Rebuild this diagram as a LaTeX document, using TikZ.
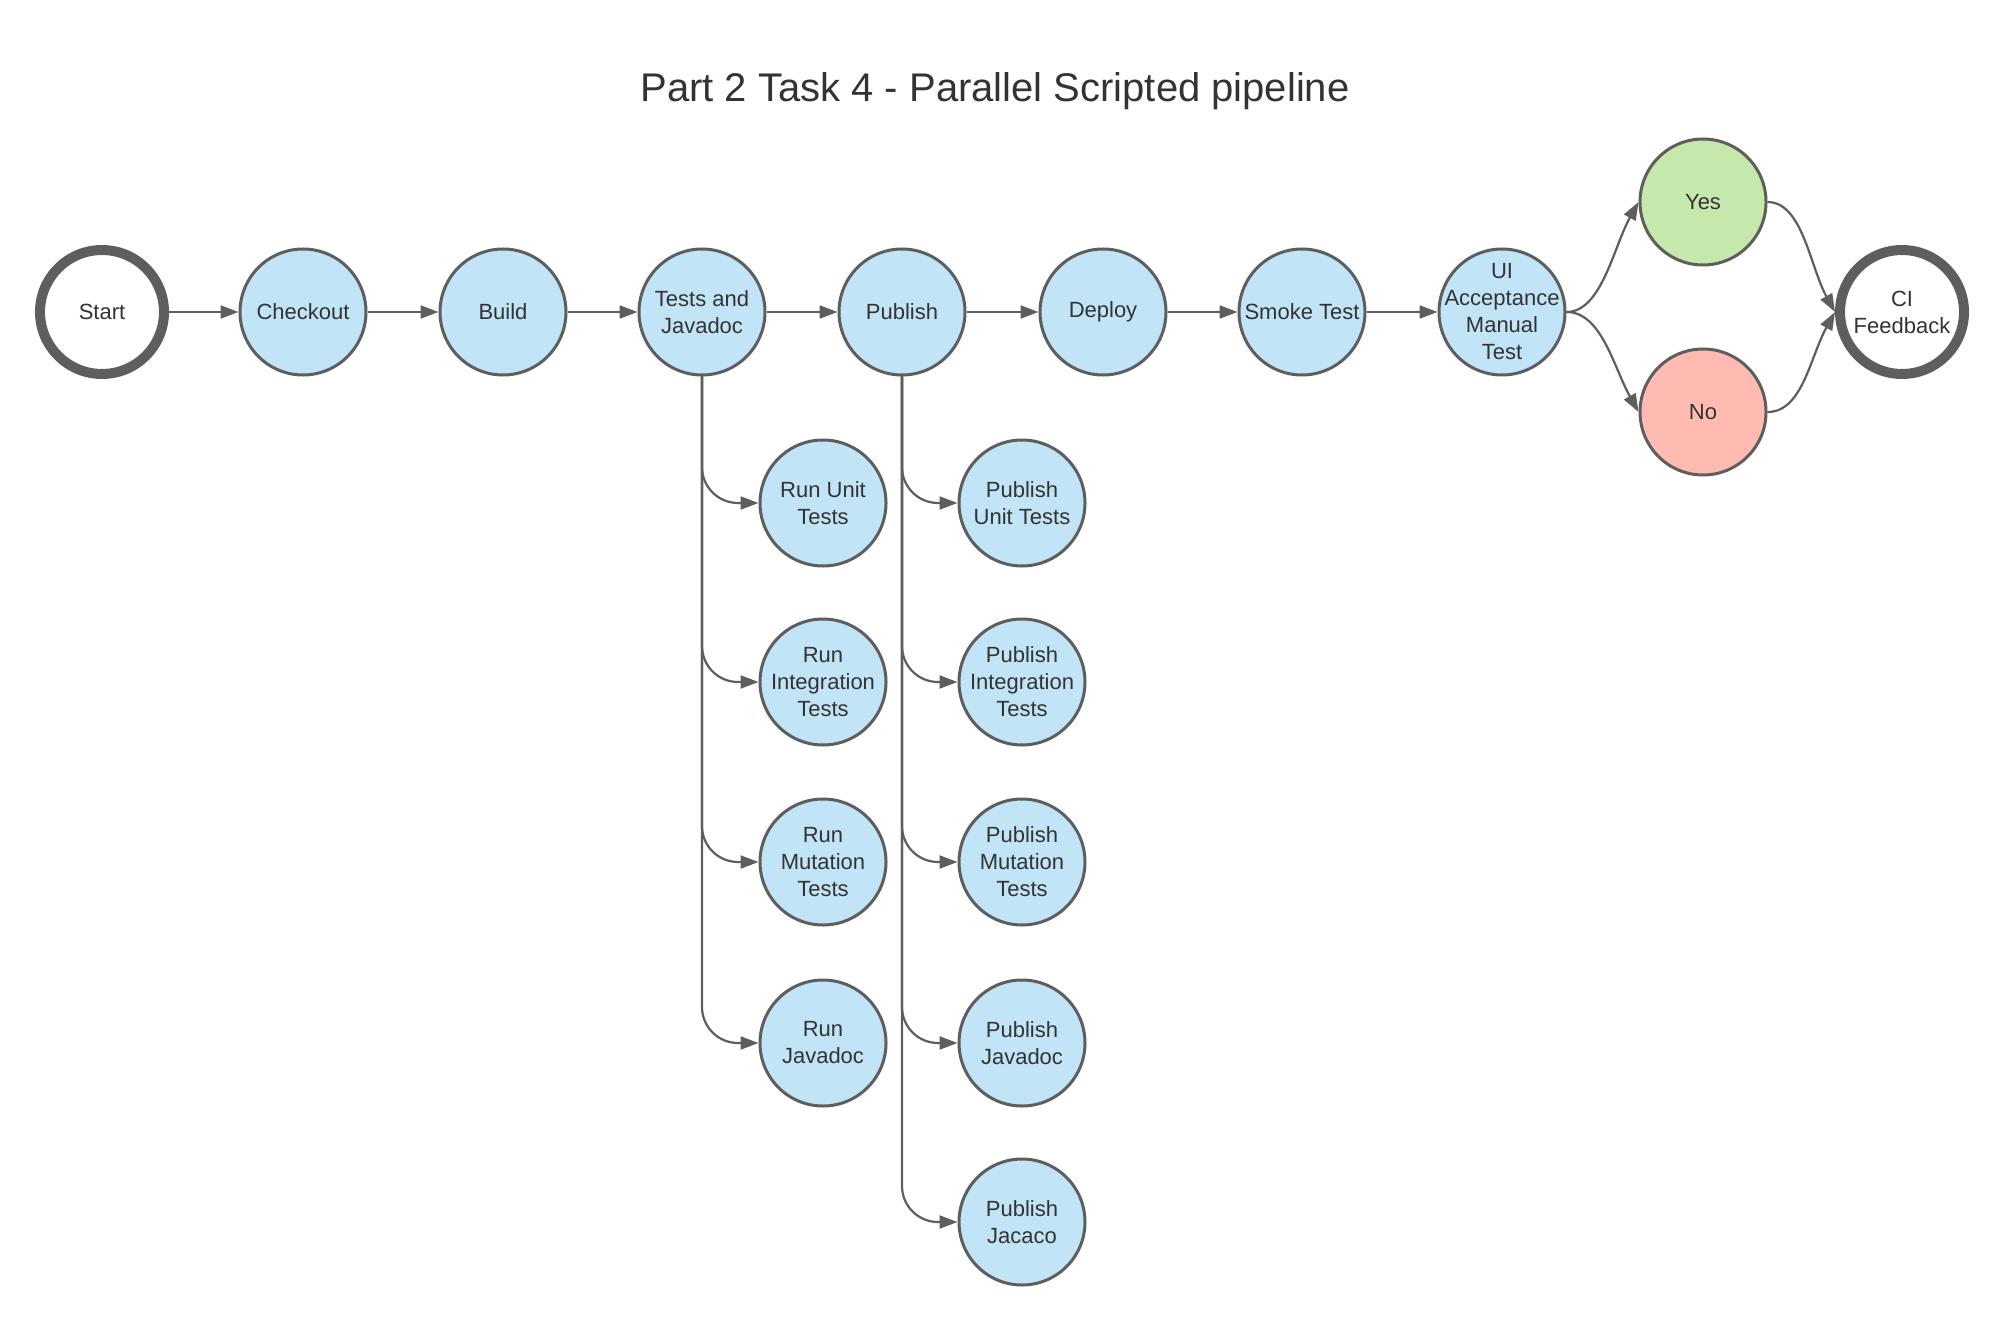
\documentclass[tikz,border=0pt]{standalone}
\usepackage{fontspec}
\setmainfont{Liberation Sans}
\usetikzlibrary{arrows.meta}
\definecolor{edge}{HTML}{5E5E5E}
\definecolor{txt}{HTML}{333333}
\definecolor{bluefill}{HTML}{C1E4F7}
\definecolor{greenfill}{HTML}{C7E8AC}
\definecolor{redfill}{HTML}{FFBBB1}
\tikzset{
  stage/.style={circle, draw=edge, line width=1.5pt, fill=bluefill, minimum size=63pt, inner sep=0pt,
    align=center, text=txt, font=\fontsize{11pt}{13.5pt}\selectfont},
  yesnode/.style={stage, fill=greenfill},
  nonode/.style={stage, fill=redfill},
  terminal/.style={circle, draw=edge, line width=5pt, fill=white, minimum size=62pt, inner sep=0pt,
    align=center, text=txt, font=\fontsize{11pt}{13.5pt}\selectfont},
  labeltext/.style={align=center, text=txt, inner sep=0pt, font=\fontsize{11pt}{13.5pt}\selectfont},
  arr/.style={draw=edge, line width=1.1pt, -{Triangle[length=9pt,width=6.5pt]}},
  branch/.style={arr, rounded corners=18pt}
}
\begin{document}
\begin{tikzpicture}[x=0.5pt,y=-0.5pt]
\useasboundingbox (0,0) rectangle (2006,1326);
\node[text=txt, font=\fontsize{20pt}{24pt}\selectfont] (title) at (995,91) {Part 2 Task 4 - Parallel Scripted pipeline};

\node[terminal] (start) at (102,312) {Start};
\node[stage] (checkout) at (303,312) {Checkout};
\node[stage] (build) at (503,312) {Build};
\node[stage] (tests) at (702,312) {Tests and\\Javadoc};
\node[stage] (publish) at (902,312) {Publish};
\node[stage] (deploy) at (1103,312) {Deploy};
\node[stage] (smoke) at (1302,312) {Smoke Test};
\node[stage] (ui) at (1502,312) {};
\node[labeltext] (uitext) at (ui.center) {UI\\Acceptance\\Manual\\Test};
\node[yesnode] (yes) at (1703,202) {Yes};
\node[nonode] (no) at (1703,412) {No};
\node[terminal] (ci) at (1902,312) {CI\\Feedback};

\node[stage] (rut) at (823,503) {Run Unit\\Tests};
\node[stage] (rit) at (823,682) {Run\\Integration\\Tests};
\node[stage] (rmt) at (823,862) {Run\\Mutation\\Tests};
\node[stage] (rjd) at (823,1043) {Run\\Javadoc};

\node[stage] (put) at (1022,503) {Publish\\Unit Tests};
\node[stage] (pit) at (1022,682) {Publish\\Integration\\Tests};
\node[stage] (pmt) at (1022,862) {Publish\\Mutation\\Tests};
\node[stage] (pjd) at (1022,1043) {Publish\\Javadoc};
\node[stage] (pjc) at (1022,1222) {Publish\\Jacaco};

\draw[arr] (start) -- (checkout);
\draw[arr] (checkout) -- (build);
\draw[arr] (build) -- (tests);
\draw[arr] (tests) -- (publish);
\draw[arr] (publish) -- (deploy);
\draw[arr] (deploy) -- (smoke);
\draw[arr] (smoke) -- (ui);

\draw[arr] (ui.east) .. controls +(35,0) and +(-25,45) .. (yes.west);
\draw[arr] (ui.east) .. controls +(35,0) and +(-25,-45) .. (no.west);
\draw[arr] (yes.east) .. controls +(35,0) and +(-25,-45) .. (ci.west);
\draw[arr] (no.east) .. controls +(35,0) and +(-25,45) .. (ci.west);

\draw[branch] (tests.south) |- (rut.west);
\draw[branch] (tests.south) |- (rit.west);
\draw[branch] (tests.south) |- (rmt.west);
\draw[branch] (tests.south) |- (rjd.west);

\draw[branch] (publish.south) |- (put.west);
\draw[branch] (publish.south) |- (pit.west);
\draw[branch] (publish.south) |- (pmt.west);
\draw[branch] (publish.south) |- (pjd.west);
\draw[branch] (publish.south) |- (pjc.west);
\end{tikzpicture}
\end{document}
